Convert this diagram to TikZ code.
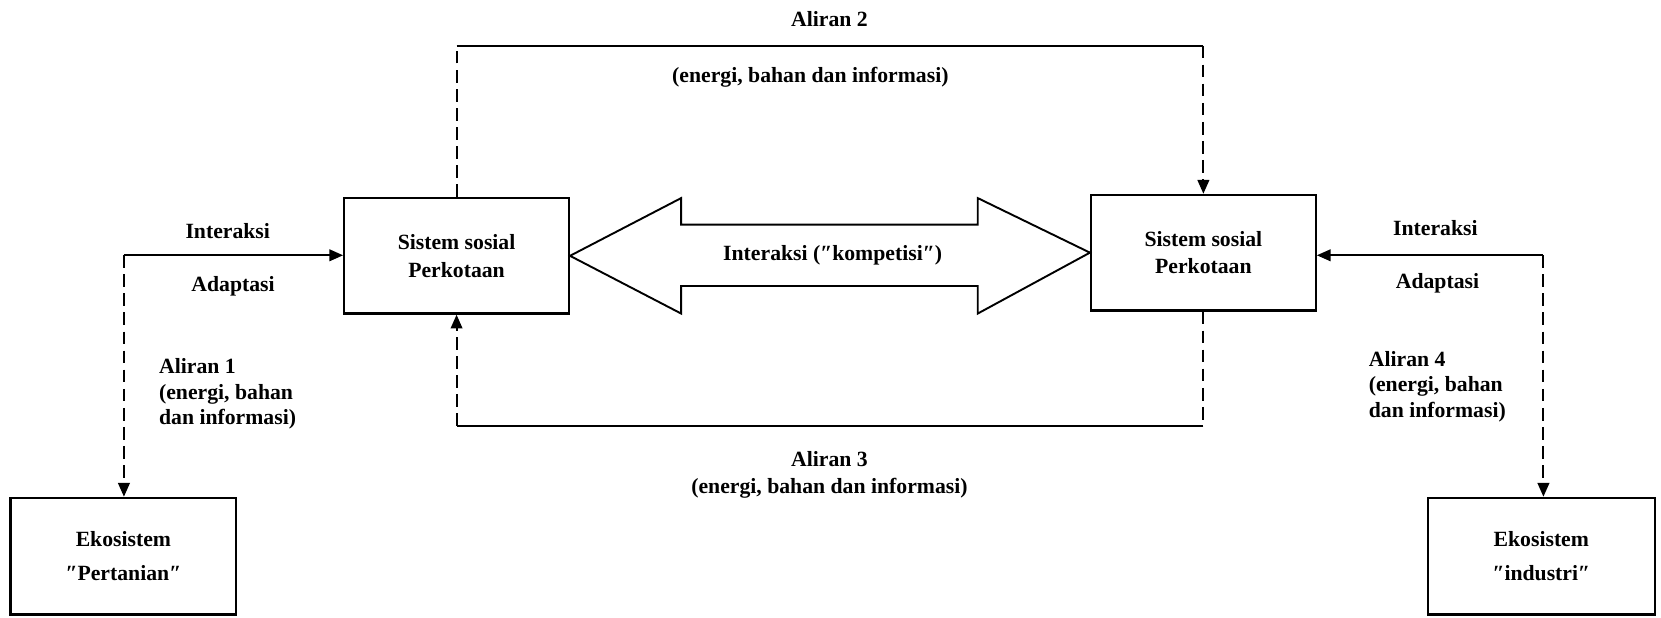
\documentclass[tikz,border=0pt]{standalone}
\usepackage{fontspec}
\setmainfont{Liberation Serif}
\usetikzlibrary{arrows.meta,calc}
\begin{document}
\begin{tikzpicture}[x=1pt,y=-1pt,
  box/.style={draw,line width=2.2pt,minimum width=212pt,minimum height=109pt,inner sep=0pt,align=center,font=\bfseries\fontsize{20.5}{26}\selectfont},
  ekobox/.style={box,minimum height=110pt,font=\bfseries\fontsize{20.5}{32}\selectfont},
  lbl/.style={font=\bfseries\fontsize{20.5}{24}\selectfont,inner sep=0pt},
  flow/.style={line width=1.8pt},
  dsh/.style={line width=1.8pt,dash pattern=on 12pt off 6pt},
  tip/.style={-{Triangle[length=13pt,width=11pt]}}]
\useasboundingbox (0,0) rectangle (1568,582.5);

% boxes
\node[box] (L) at (431,241.5) {Sistem sosial\\Perkotaan};
\node[box] (R) at (1136,238.5) {Sistem sosial\\Perkotaan};
\node[ekobox,minimum width=213pt] (P) at (116.5,525) {Ekosistem\\″Pertanian″};
\node[ekobox,minimum width=214pt] (I) at (1455,525) {Ekosistem\\″industri″};

% double arrow (competition)
\draw[line width=1.8pt,line join=miter] (L.east) -- (643,187) -- (643,212) -- (923,212) -- (923,187)
  -- (R.west) -- (923,296) -- (923,270) -- (643,270) -- (643,296) -- cycle;
\node[lbl] (komp) at (786,241) {Interaksi (″kompetisi″)};

% Aliran 2 (top)
\coordinate (a2l) at (431,43);
\coordinate (a2r) at (1136,43);
\draw[dsh] (L.north) -- (a2l);
\draw[flow] (a2l) -- (a2r);
\draw[dsh,tip] (a2r) -- (R.north);
\node[lbl] (al2) at (783,18) {Aliran 2};
\node[lbl] (al2t) at (765,73) {(energi, bahan dan informasi)};

% Aliran 3 (bottom)
\coordinate (a3l) at (431,402);
\coordinate (a3r) at (1136,402);
\draw[dsh] (R.south) -- (a3r);
\draw[flow] (a3r) -- (a3l);
\draw[dsh,tip] (a3l) -- (L.south);
\node[lbl] (al3) at (783,433) {Aliran 3};
\node[lbl] (al3t) at (783,461) {(energi, bahan dan informasi)};

% left interaction / Aliran 1
\coordinate (c1) at (117,241);
\draw[flow,tip] (c1) -- (c1 -| L.west);
\draw[dsh,tip] (c1) -- (c1 |- P.north);
\node[lbl] (int1) at (215,218) {Interaksi};
\node[lbl] (ada1) at (220,270) {Adaptasi};
\node[lbl,anchor=west,align=left] (al1) at (150,372) {Aliran 1\\(energi, bahan\\dan informasi)};

% right interaction / Aliran 4
\coordinate (c4) at (1457,241);
\draw[flow,tip] (c4) -- (c4 -| R.east);
\draw[dsh,tip] (c4) -- (c4 |- I.north);
\node[lbl] (int4) at (1355,215) {Interaksi};
\node[lbl] (ada4) at (1357,267) {Adaptasi};
\node[lbl,anchor=west,align=left] (al4) at (1292,365) {Aliran 4\\(energi, bahan\\dan informasi)};
\end{tikzpicture}
\end{document}
